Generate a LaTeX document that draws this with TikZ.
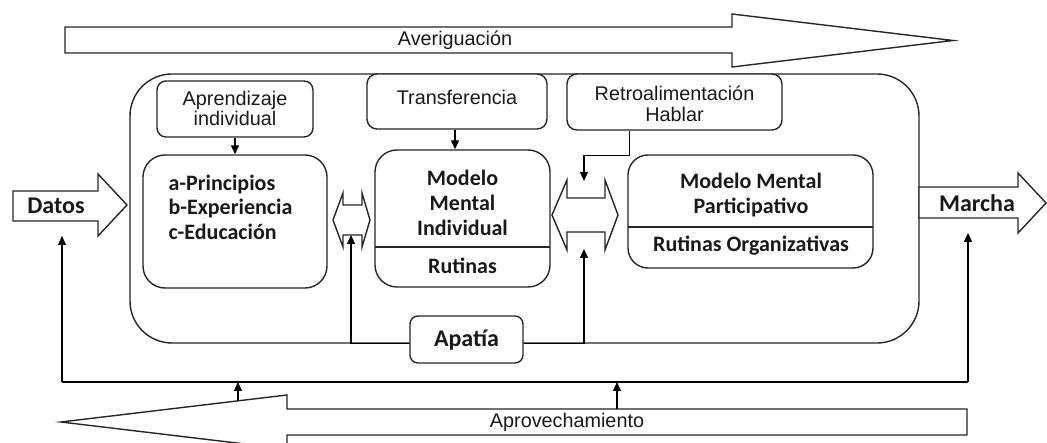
\documentclass[tikz,border=0pt]{standalone}
\usepackage{fontspec}
\setmainfont{Liberation Sans}
\newfontfamily\calfont{Carlito}
\usetikzlibrary{arrows.meta}
\begin{document}
\begin{tikzpicture}[x=1pt,y=-1pt,
  ln/.style={draw=black!85, line width=1.4pt},
  bx/.style={ln, fill=white, rounded corners=#1, inner sep=0pt},
  bx/.default=10pt,
  con/.style={draw=black, line width=1.3pt, -{Triangle[length=9pt,width=8pt]}},
  wire/.style={draw=black, line width=1.3pt},
  reg/.style={font=\fontsize{19.8}{20.5}\selectfont, text=black!90},
  bld/.style={font=\calfont\bfseries\fontsize{22}{24.5}\selectfont, text=black!90},
  big/.style={font=\calfont\bfseries\fontsize{24}{26}\selectfont, text=black!90},
]
\useasboundingbox (0,0) rectangle (1047,443);

% top arrow
\draw[ln, fill=white] (65,27) -- (732,27) -- (732,14) -- (953,40.5) -- (732,67) -- (732,53) -- (65,53) -- cycle;
\node[reg] (aver) at (455,40) {Averiguación};

% outer rounded box
\node[bx=42pt, minimum width=789pt, minimum height=269pt] (outer) at (524.5,208.5) {};

% Datos arrow
\draw[ln, fill=white] (13,191) -- (98,191) -- (98,174) -- (127,205) -- (98,236) -- (98,221) -- (13,221) -- cycle;
\node[big] (datos) at (56,206) {Datos};
\coordinate (datosbot) at (62,236);

% Marcha arrow
\draw[ln, fill=white] (919,187) -- (1018,187) -- (1018,173) -- (1046,203) -- (1018,233) -- (1018,218) -- (919,218) -- cycle;
\node[big] (marcha) at (977,203) {Marcha};
\coordinate (marchabot) at (968,233);

% Aprovechamiento arrow
\draw[ln, fill=white] (967,409) -- (287,409) -- (287,395) -- (61,422) -- (287,449) -- (287,435) -- (967,435) -- cycle;
\node[reg] (aprov) at (567,422) {Aprovechamiento};
\coordinate (ap1) at (238,401);
\coordinate (ap2) at (617,409);

% top boxes
\node[bx=9pt, minimum width=156pt, minimum height=56pt] (aprend) at (235,109) {};
\node[reg, align=center] at (235,108.5) {Aprendizaje\\individual};
\node[bx=10pt, minimum width=180pt, minimum height=55pt] (trans) at (457,101.5) {};
\node[reg] at (457,97) {Transferencia};
\node[bx=10pt, minimum width=215pt, minimum height=56pt] (retro) at (674.5,102) {};
\node[reg, align=center] at (674.5,104) {Retroalimentación\\Hablar};

% main boxes
\node[bx=22pt, minimum width=184pt, minimum height=133pt] (prin) at (235,221.5) {};
\node[bld, align=left, anchor=west] at (165,207) {a-Principios\\b-Experiencia\\c-Educación};

\node[bx=22pt, minimum width=175pt, minimum height=137pt] (mmi) at (462.5,218.5) {};
\draw[ln] (375,247) -- (550,247);
\node[bld, align=center, font=\calfont\bfseries\fontsize{22}{25}\selectfont] at (462.5,203) {Modelo\\Mental\\Individual};
\node[bld] at (462.5,266) {Rutinas};

\node[bx=20pt, minimum width=245pt, minimum height=113pt] (mmp) at (750.5,211.5) {};
\draw[ln] (628,227) -- (873,227);
\node[bld, align=center] at (751,195) {Modelo Mental\\Participativo};
\node[bld] at (751,246) {Rutinas Organizativas};

% double arrows
\draw[ln, fill=white] (333,220) -- (343,193) -- (343,205) -- (362,205) -- (362,193) -- (370,220) -- (362,247) -- (362,235) -- (343,235) -- (343,247) -- cycle;
\coordinate (da1bot) at (351,235);
\draw[ln, fill=white] (552,215) -- (567,180) -- (567,198) -- (605,198) -- (605,180) -- (618,215) -- (605,250) -- (605,232) -- (567,232) -- (567,250) -- cycle;
\coordinate (da2top) at (584,181);
\coordinate (da2bot) at (584,249);

% connectors
\draw[con] (aprend.south) -- (prin.north);
\draw[con] ([xshift=-2pt]trans.south) -- ([xshift=-2pt]trans.south |- mmi.north);
\draw[con] ([xshift=-45pt]retro.south) -- ++(0,25) -| (da2top);

% Apatia
\node[bx=8pt, minimum width=113pt, minimum height=47pt] (apatia) at (466.5,339.5) {};
\node[big] at (466.5,340) {Apatía};
\draw[con] (apatia.west |- outer.south) -| (da1bot);
\draw[con] (apatia.east |- outer.south) -| (da2bot);

% feedback line
\coordinate (fbl) at (62,382);
\coordinate (fbr) at (968,382);
\draw[wire] (fbl) -- (fbr);
\draw[con] (fbl) -- (datosbot);
\draw[con] (fbr) -- (marchabot);
\draw[con] (ap1) -- (ap1 |- fbl);
\draw[con] (ap2) -- (ap2 |- fbl);
\end{tikzpicture}
\end{document}
